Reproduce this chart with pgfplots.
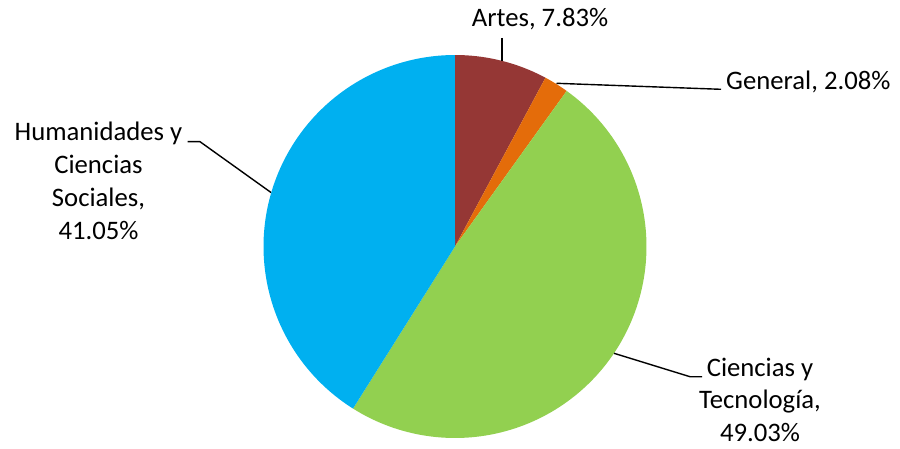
\documentclass[border=0pt]{standalone}
\usepackage{pgfplots}
\pgfplotsset{compat=1.18}
\usepackage{fontspec}
\setmainfont{Carlito}
\definecolor{artes}{HTML}{953735}
\definecolor{general}{HTML}{E46C0A}
\definecolor{ciencias}{HTML}{92D050}
\definecolor{humanidades}{HTML}{00B0F0}
% data (percent)
\def\pA{7.83}  % Artes
\def\pB{2.08}  % General
\def\pC{49.03} % Ciencias y Tecnologia
\def\pD{41.05} % Humanidades y Ciencias Sociales
\pgfmathsetmacro\aO{90}
\pgfmathsetmacro\aA{\aO-3.6*\pA}
\pgfmathsetmacro\aB{\aA-3.6*\pB}
\pgfmathsetmacro\aC{\aB-3.6*\pC}
\pgfmathsetmacro\aD{\aC-3.6*\pD}
\def\cx{455}
\def\cy{201.5}
\def\rr{191.5}
\begin{document}
\begin{tikzpicture}[font=\fontsize{26.7}{32.6}\selectfont]
\begin{axis}[
  width=900pt, height=448pt, scale only axis,
  xmin=0, xmax=900, ymin=0, ymax=448,
  hide axis, clip=false,
]
\addplot[fill=artes, draw=none, domain=\aA:\aO, samples=40, variable=\t]
  ({\cx+\rr*cos(t)},{\cy+\rr*sin(t)}) -- (axis cs:\cx,\cy) -- cycle;
\addplot[fill=general, draw=none, domain=\aB:\aA, samples=20, variable=\t]
  ({\cx+\rr*cos(t)},{\cy+\rr*sin(t)}) -- (axis cs:\cx,\cy) -- cycle;
\addplot[fill=ciencias, draw=none, domain=\aC:\aB, samples=120, variable=\t]
  ({\cx+\rr*cos(t)},{\cy+\rr*sin(t)}) -- (axis cs:\cx,\cy) -- cycle;
\addplot[fill=humanidades, draw=none, domain=\aD:\aC, samples=120, variable=\t]
  ({\cx+\rr*cos(t)},{\cy+\rr*sin(t)}) -- (axis cs:\cx,\cy) -- cycle;
% leader lines
\draw[black, line width=1.4pt] (axis cs:502,410) -- (axis cs:502,387);
\draw[black, line width=1.4pt] (axis cs:556.5,364.7) -- (axis cs:721,358.7);
\draw[black, line width=1.4pt] (axis cs:187.5,306.3) -- (axis cs:200,306.3) -- (axis cs:271,255.5);
\draw[black, line width=1.4pt] (axis cs:614,94.7) -- (axis cs:690,71.3) -- (axis cs:702,71.3);
% labels
\node[anchor=base] at (axis cs:540,421.3) {Artes, 7.83\%};
\node[anchor=base west, inner sep=0pt] at (axis cs:726,358.7) {General, 2.08\%};
\node[anchor=base] at (axis cs:98.5,307.3) {Humanidades y};
\node[anchor=base] at (axis cs:98.5,274) {Ciencias};
\node[anchor=base] at (axis cs:98.5,241.3) {Sociales,};
\node[anchor=base] at (axis cs:98.5,208.7) {41.05\%};
\node[anchor=base] at (axis cs:760,71.3) {Ciencias y};
\node[anchor=base] at (axis cs:760,40) {Tecnología,};
\node[anchor=base] at (axis cs:760,6.3) {49.03\%};
\end{axis}
\pgfresetboundingbox
\path[use as bounding box] (current axis.south west) rectangle (current axis.north east);
\end{tikzpicture}
\end{document}
